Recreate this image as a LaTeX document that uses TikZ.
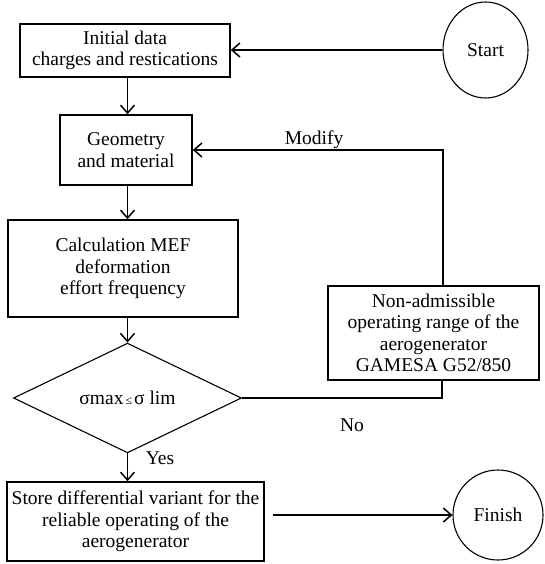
\documentclass[tikz,border=0pt]{standalone}
\usepackage{fontspec}
\setmainfont{Liberation Serif}
\usetikzlibrary{arrows.meta,shapes.geometric}
\begin{document}
\begin{tikzpicture}[x=1pt,y=-1pt,
  every node/.style={font=\fontsize{19.5}{21.5}\selectfont},
  box/.style={draw, line width=1.6pt, align=center, inner sep=0pt},
  term/.style={draw, line width=1.1pt, ellipse, inner sep=0pt},
  arr/.style={line width=1.5pt, -{Straight Barb[length=8pt,width=14pt,line width=1.5pt]}},
  ln/.style={line width=1.5pt},
  lbl/.style={inner sep=0pt}]
\useasboundingbox (0,0) rectangle (544,564);
\node[box, minimum width=210pt, minimum height=53pt] (init) at (125,50.5) {Initial data\\charges and restications};
\node[term, minimum width=85pt, minimum height=96pt] (start) at (485.5,50) {Start};
\node[box, minimum width=132pt, minimum height=70pt] (geo) at (126,150) {Geometry\\and material};
\node[box, minimum width=230pt, minimum height=97pt] (calc) at (123,268.5) {Calculation MEF\\deformation\\effort frequency};
\node[draw, line width=1.1pt, diamond, inner sep=0pt, minimum width=228pt, minimum height=96pt] (dec) at (127.5,398) {σmax{\fontsize{12}{12}\selectfont\,≤\,}σ lim};
\node[box, minimum width=211pt, minimum height=94pt] (na) at (433.5,333) {Non-admissible\\operating range of the\\aerogenerator\\GAMESA G52/850};
\node[box, minimum width=257pt, minimum height=79pt] (store) at (135.5,521.5) {Store differential variant for the\\reliable operating of the\\aerogenerator};
\node[term, minimum width=90pt, minimum height=90pt] (fin) at (498,515) {Finish};
\node[lbl] (lmod) at (314,140) {Modify};
\node[lbl] (lno) at (352,425) {No};
\node[lbl] (lyes) at (160,458) {Yes};
\draw[arr] (start.west) -- (start.west -| init.east);
\draw[arr] (init.south -| dec.north) -- (geo.north -| dec.north);
\draw[arr] (geo.south -| dec.north) -- (calc.north -| dec.north);
\draw[arr] (calc.south -| dec.north) -- (dec.north);
\draw[arr] (dec.south) -- (store.north -| dec.south);
\draw[arr] ([xshift=9.5pt]na.north) |- (geo.east);
\draw[ln] (dec.east) -| ([xshift=8.5pt]na.south);
\draw[arr, shorten <=8pt] (store.east |- fin.west) -- (fin.west);
\end{tikzpicture}
\end{document}
